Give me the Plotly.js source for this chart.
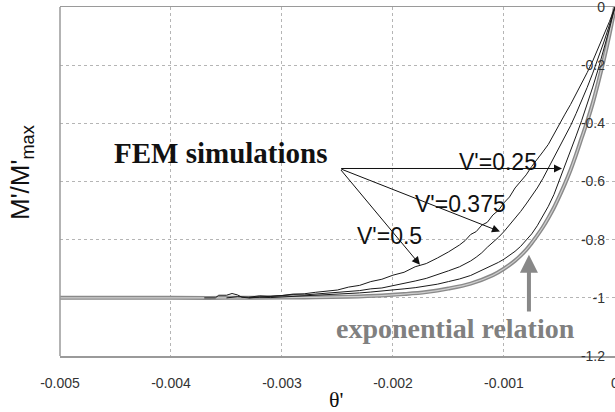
<!DOCTYPE html>
<html>
<head>
<meta charset="utf-8">
<script src="https://cdn.plot.ly/plotly-3.0.1.min.js"></script>
<style>html,body{margin:0;padding:0;background:#fff;}#chart{width:615px;height:412px;}</style>
</head>
<body>
<div id="chart"></div>
<script>
// Exponential relation (thick grey)
const expX = [-0.005, -0.004, -0.0035, -0.003, -0.0027, -0.0024, -0.0021, -0.0019, -0.0017, -0.0015, -0.0013, -0.0011, -0.001, -0.0009, -0.0008, -0.00075, -0.0007, -0.00065, -0.0006, -0.00055, -0.0005, -0.00045, -0.0004, -0.00035, -0.0003, -0.00025, -0.0002, -0.00015, -0.0001, -0.00005, 0];
const expY = [-1, -1, -1, -0.999, -0.998, -0.996, -0.992, -0.987, -0.98, -0.968, -0.951, -0.922, -0.9, -0.872, -0.835, -0.811, -0.785, -0.757, -0.725, -0.69, -0.65, -0.607, -0.56, -0.507, -0.45, -0.393, -0.33, -0.258, -0.18, -0.095, 0];

// FEM simulation, V'=0.5
const fem05X = [-0.0037, -0.0036, -0.00357, -0.0035, -0.00345, -0.0034, -0.00336, -0.0033, -0.0032, -0.0031, -0.003, -0.0029, -0.0028, -0.0027, -0.0026, -0.0025, -0.0024, -0.0023, -0.0022, -0.0021, -0.002, -0.0019, -0.0018, -0.0017, -0.0016, -0.0015, -0.0014, -0.00135, -0.0013, -0.00125, -0.0012, -0.00115, -0.0011, -0.00105, -0.001, -0.00095, -0.0009, -0.00085, -0.0008, -0.00075, -0.0007, -0.00065, -0.0006, -0.00055, -0.0005, -0.00045, -0.0004, -0.00035, -0.0003, -0.00025, -0.0002, -0.00015, -0.0001, -0.00005, 0];
const fem05Y = [-1, -1, -0.991, -0.991, -0.985, -0.99, -0.998, -1, -0.997, -0.995, -0.992, -0.987, -0.986, -0.981, -0.976, -0.973, -0.963, -0.957, -0.944, -0.936, -0.922, -0.912, -0.893, -0.882, -0.863, -0.842, -0.818, -0.803, -0.782, -0.772, -0.75, -0.74, -0.715, -0.699, -0.673, -0.653, -0.622, -0.6, -0.577, -0.548, -0.525, -0.498, -0.472, -0.436, -0.4, -0.368, -0.335, -0.3, -0.264, -0.225, -0.185, -0.142, -0.097, -0.05, 0];

// FEM simulation, V'=0.375
const fem0375X = [-0.0035, -0.0034, -0.0033, -0.0032, -0.0031, -0.003, -0.0029, -0.0028, -0.0027, -0.0026, -0.0025, -0.0024, -0.0023, -0.0022, -0.0021, -0.002, -0.0019, -0.0018, -0.0017, -0.0016, -0.0015, -0.0014, -0.0013, -0.00125, -0.0012, -0.00115, -0.0011, -0.00105, -0.001, -0.00095, -0.0009, -0.00085, -0.0008, -0.00075, -0.0007, -0.00065, -0.0006, -0.00055, -0.0005, -0.00045, -0.0004, -0.00035, -0.0003, -0.00025, -0.0002, -0.00015, -0.0001, -0.00005, 0];
const fem0375Y = [-1, -0.996, -0.998, -0.993, -0.995, -0.993, -0.989, -0.99, -0.987, -0.984, -0.981, -0.977, -0.975, -0.969, -0.966, -0.958, -0.951, -0.942, -0.933, -0.921, -0.907, -0.893, -0.873, -0.86, -0.845, -0.826, -0.81, -0.792, -0.772, -0.75, -0.727, -0.703, -0.677, -0.65, -0.622, -0.59, -0.553, -0.518, -0.483, -0.447, -0.408, -0.366, -0.322, -0.276, -0.227, -0.176, -0.12, -0.062, 0];

// FEM simulation, V'=0.25
const fem025X = [-0.0033, -0.0032, -0.0031, -0.003, -0.0029, -0.0028, -0.0027, -0.0026, -0.0025, -0.0024, -0.0023, -0.0022, -0.0021, -0.002, -0.0019, -0.0018, -0.0017, -0.0016, -0.0015, -0.0014, -0.0013, -0.0012, -0.0011, -0.00105, -0.001, -0.00095, -0.0009, -0.00085, -0.0008, -0.00075, -0.0007, -0.00065, -0.0006, -0.00055, -0.0005, -0.00045, -0.0004, -0.00035, -0.0003, -0.00025, -0.0002, -0.00015, -0.0001, -0.00005, 0];
const fem025Y = [-1, -0.998, -0.999, -0.997, -0.996, -0.995, -0.992, -0.99, -0.989, -0.985, -0.983, -0.98, -0.977, -0.973, -0.969, -0.965, -0.96, -0.953, -0.944, -0.935, -0.923, -0.906, -0.889, -0.878, -0.867, -0.855, -0.84, -0.823, -0.803, -0.78, -0.752, -0.72, -0.685, -0.645, -0.596, -0.547, -0.495, -0.443, -0.39, -0.335, -0.275, -0.212, -0.145, -0.075, 0];

const xTicks = [-0.005, -0.004, -0.003, -0.002, -0.001, 0];
const xTickText = ['-0.005', '-0.004', '-0.003', '-0.002', '-0.001', '0'];
const yTicks = [0, -0.2, -0.4, -0.6, -0.8, -1, -1.2];
const yTickText = ['0', '-0.2', '-0.4', '-0.6', '-0.8', '-1', '-1.2'];

const femLine = {color: '#1a1a1a', width: 1};
const traces = [
  {x: expX, y: expY, type: 'scatter', mode: 'lines', line: {color: '#8a8a8a', width: 4, shape: 'spline'}, hoverinfo: 'skip'},
  {x: expX, y: expY, type: 'scatter', mode: 'lines', line: {color: '#cfcfcf', width: 1.2, shape: 'spline'}, hoverinfo: 'skip'},
  {x: fem025X, y: fem025Y, type: 'scatter', mode: 'lines', line: femLine},
  {x: fem0375X, y: fem0375Y, type: 'scatter', mode: 'lines', line: femLine},
  {x: fem05X, y: fem05Y, type: 'scatter', mode: 'lines', line: femLine}
];

const tickFont = {family: 'Liberation Sans, Arial, sans-serif', size: 14, color: '#333'};
const labelFont = {family: 'Liberation Sans, Arial, sans-serif', size: 23, color: '#111'};
const serifBold = {family: 'Liberation Serif, Times New Roman, serif', size: 29, color: '#111'};

const arrowBase = {xref: 'x', yref: 'y', axref: 'x', ayref: 'y', text: '', showarrow: true, arrowhead: 2, arrowsize: 1.6, arrowwidth: 1, arrowcolor: '#111'};

const layout = {
  width: 615, height: 412,
  margin: {l: 60, r: 0, t: 7, b: 56},
  paper_bgcolor: '#fff', plot_bgcolor: '#fff',
  showlegend: false,
  xaxis: {
    range: [-0.005, 0.0000005], tickmode: 'array', tickvals: xTicks, ticktext: xTickText,
    showgrid: true, gridcolor: '#b5b5b5', griddash: 'dot', gridwidth: 1,
    zeroline: false, showline: true, mirror: true, linecolor: '#9a9a9a', linewidth: 1.5,
    ticks: '', tickfont: tickFont, ticklabelstandoff: 14, ticklabeloverflow: 'allow'
  },
  yaxis: {
    range: [-1.2, 0.0005], tickmode: 'array', tickvals: yTicks, ticktext: yTickText,
    anchor: 'free', position: 0.982, side: 'left', ticklabelposition: 'outside', ticklabeloverflow: 'allow',
    showgrid: true, gridcolor: '#b5b5b5', griddash: 'dot', gridwidth: 1,
    zeroline: false, showline: false, ticks: '', tickfont: tickFont
  },
  shapes: [
    {type: 'line', xref: 'paper', yref: 'paper', x0: 0, x1: 0, y0: 0, y1: 1, line: {color: '#9a9a9a', width: 1.5}}
  ],
  annotations: [
    Object.assign({}, arrowBase, {x: -0.000477, y: -0.555, ax: -0.00248, ay: -0.555}),
    Object.assign({}, arrowBase, {x: -0.001036, y: -0.772, ax: -0.00248, ay: -0.555}),
    Object.assign({}, arrowBase, {x: -0.001757, y: -0.886, ax: -0.00248, ay: -0.555}),
    {xref: 'x', yref: 'y', axref: 'x', ayref: 'y', x: -0.000775, y: -0.852, ax: -0.000775, ay: -1.052, text: '', showarrow: true, arrowhead: 2, arrowsize: 0.9, arrowwidth: 4, arrowcolor: '#888'},
    {xref: 'x', yref: 'y', x: -0.00355, y: -0.5, text: '<b>FEM simulations</b>', showarrow: false, font: serifBold},
    {xref: 'x', yref: 'y', x: -0.00105, y: -0.534, text: "V'=0.25", showarrow: false, font: labelFont},
    {xref: 'x', yref: 'y', x: -0.00139, y: -0.676, text: "V'=0.375", showarrow: false, font: labelFont},
    {xref: 'x', yref: 'y', x: -0.00203, y: -0.786, text: "V'=0.5", showarrow: false, font: labelFont},
    {xref: 'x', yref: 'y', x: -0.00144, y: -1.107, text: '<b>exponential relation</b>', showarrow: false, font: {family: 'Liberation Serif, Times New Roman, serif', size: 28, color: '#808080'}},
    {xref: 'paper', yref: 'paper', x: (22 - 60) / 555, y: 1 - (173 - 7) / 349, text: "M'/M'<sub>max</sub>", textangle: -90, showarrow: false, xanchor: 'center', yanchor: 'middle', font: {family: 'Liberation Sans, Arial, sans-serif', size: 26, color: '#111'}},
    {xref: 'paper', yref: 'paper', x: 0.499, y: -(399 - 356) / 349, text: "θ'", showarrow: false, xanchor: 'center', yanchor: 'middle', font: {family: 'Liberation Serif, Times New Roman, serif', size: 22, color: '#111'}}
  ]
};

Plotly.newPlot('chart', traces, layout, {staticPlot: true, displayModeBar: false});
</script>
</body>
</html>
